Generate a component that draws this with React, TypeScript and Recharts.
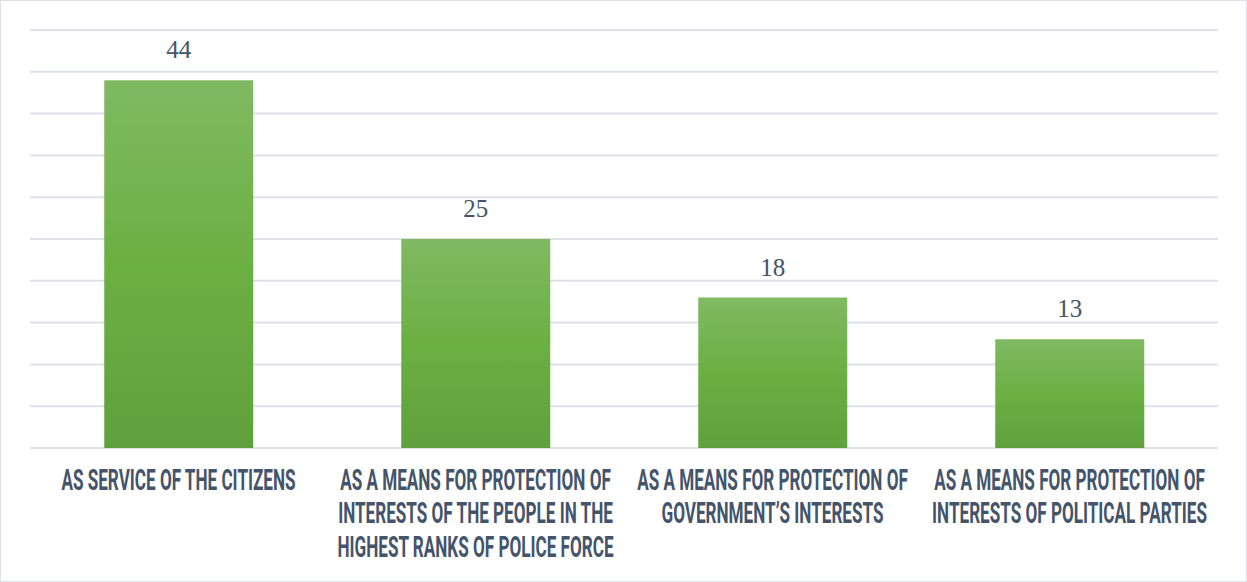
import { BarChart, Bar, XAxis, YAxis, CartesianGrid, LabelList } from 'recharts';

const categories = [
  'AS SERVICE OF THE CITIZENS',
  'AS A MEANS FOR PROTECTION OF\nINTERESTS OF THE PEOPLE IN THE\nHIGHEST RANKS OF POLICE FORCE',
  'AS A MEANS FOR PROTECTION OF\nGOVERNMENT’S INTERESTS',
  'AS A MEANS FOR PROTECTION OF\nINTERESTS OF POLITICAL PARTIES',
];
const values = [44, 25, 18, 13];
const yTicks = [0, 5, 10, 15, 20, 25, 30, 35, 40, 45, 50];

const data = categories.map((name, i) => ({ name, value: values[i] }));

const TEXT = '#44546a';

// narrow, tall caps: squeeze a bold sans horizontally
function CategoryTick(props: any) {
  const { x, y, payload } = props;
  const lines = String(payload.value).split('\n');
  return (
    <g transform={`translate(${x},${y}) scale(0.58,1)`}>
      <text
        x={0}
        y={0}
        textAnchor="middle"
        fill={TEXT}
        fontFamily="Roboto, 'DejaVu Sans', sans-serif"
        fontWeight="bold"
        fontSize={29.5}
      >
        {lines.map((l, i) => (
          <tspan key={i} x={0} dy={i === 0 ? 34 : 33.5}>
            {l}
          </tspan>
        ))}
      </text>
    </g>
  );
}

export default function App() {
  return (
    <div
      style={{
        position: 'absolute',
        left: 0,
        top: 0,
        width: 1247,
        height: 582,
        boxSizing: 'border-box',
        border: '1px solid #dde2ea',
        background: '#fff',
      }}
    >
      <BarChart
        width={1245}
        height={580}
        data={data}
        margin={{ top: 29, right: 28, bottom: 0, left: 29 }}
        barCategoryGap="25%"
      >
        <defs>
          <linearGradient id="barGrad" x1="0" y1="0" x2="0" y2="1">
            <stop offset="0%" stopColor="#80b962" />
            <stop offset="50%" stopColor="#6bb043" />
            <stop offset="100%" stopColor="#5fa13d" />
          </linearGradient>
        </defs>
        <CartesianGrid vertical={false} stroke="#dde1ea" strokeWidth={2} />
        <YAxis hide domain={[0, 50]} ticks={yTicks} />
        <XAxis
          dataKey="name"
          axisLine={false}
          tickLine={false}
          height={133}
          interval={0}
          tick={<CategoryTick />}
        />
        <Bar dataKey="value" fill="url(#barGrad)" isAnimationActive={false}>
          <LabelList
            dataKey="value"
            position="top"
            offset={22}
            fill={TEXT}
            fontSize={25}
            fontFamily="'Liberation Serif', serif"
          />
        </Bar>
      </BarChart>
    </div>
  );
}
